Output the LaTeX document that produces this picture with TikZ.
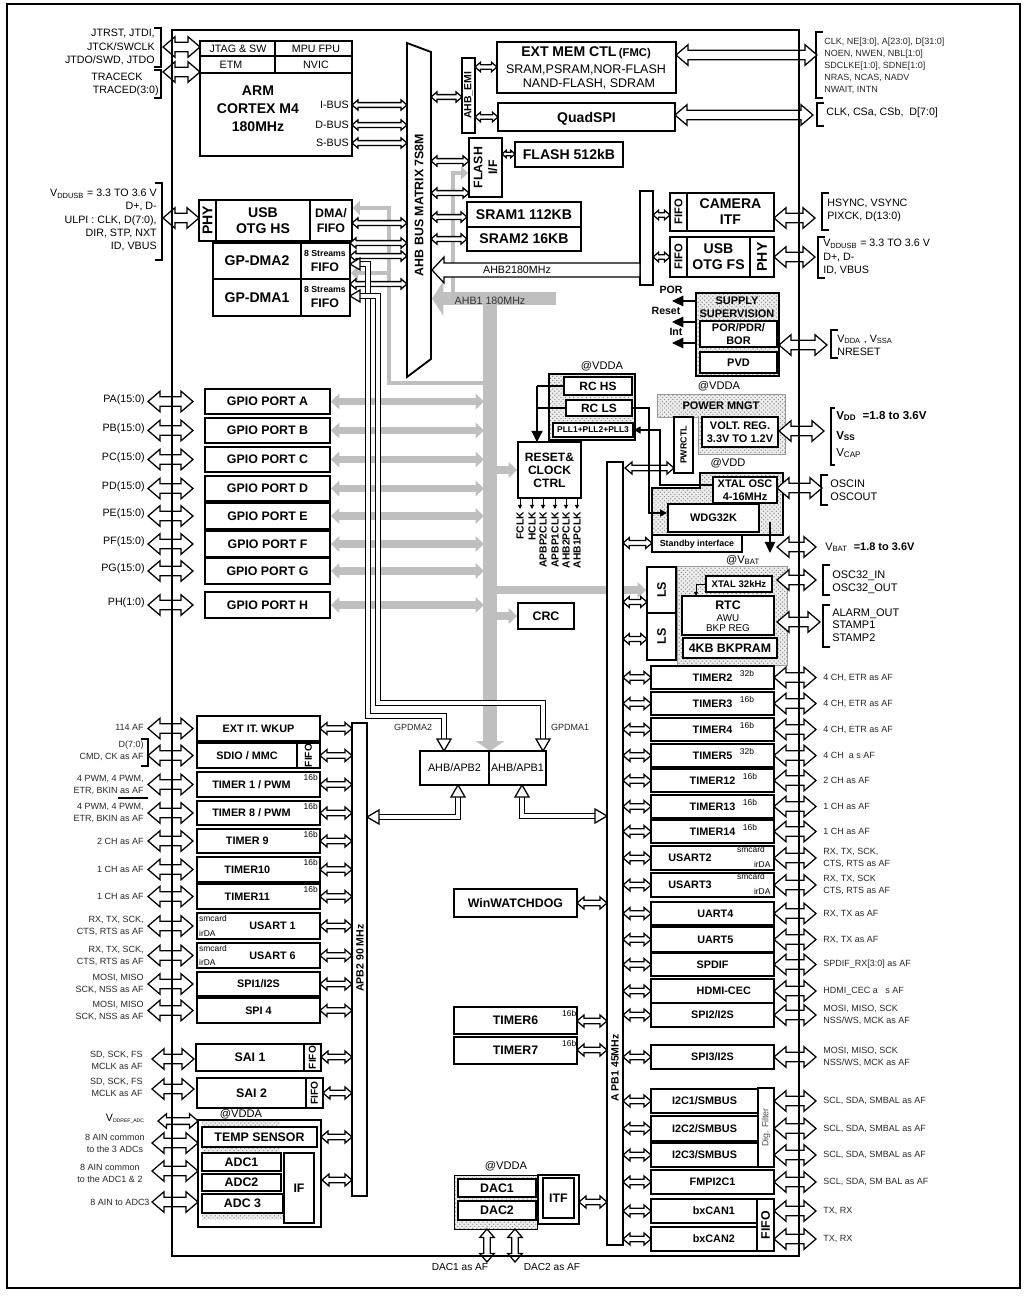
\documentclass[tikz,border=0pt]{standalone}
\usepackage{fontspec}
\setmainfont{Liberation Sans}
\usetikzlibrary{arrows.meta,positioning,fit,patterns}
\pgfdeclarelayer{bg}
\pgfsetlayers{bg,main}

\newcommand\bigf{\fontsize{10}{11.4}\selectfont\bfseries}
\newcommand\midf{\fontsize{8.8}{10.4}\selectfont\bfseries}
\newcommand\perf{\fontsize{7.7}{9}\selectfont\bfseries}
\newcommand\smbf{\fontsize{7.8}{9}\selectfont\bfseries}
\newcommand\pinf{\fontsize{7.6}{9.4}\selectfont}
\newcommand\labf{\fontsize{6.4}{8.5}\selectfont}
\newcommand\supf{\fontsize{6}{7}\selectfont}

% hollow double-headed arrows: [scale]{from}{to}{at}
\newcommand\harr[4][1]{%
  \pgfmathsetmacro\aH{6*#1}\pgfmathsetmacro\aS{2.8*#1}\pgfmathsetmacro\aL{7*#1}%
  \draw[hol] (#2,#4) -- ++(\aL,-\aH) -- ++(0,\aH-\aS) -- ({#3-\aL},{#4-\aS})
    -- ++(0,\aS-\aH) -- (#3,#4) -- ++(-\aL,\aH) -- ++(0,\aS-\aH)
    -- ({#2+\aL},{#4+\aS}) -- ++(0,\aH-\aS) -- cycle;}
\newcommand\varr[4][1]{%
  \pgfmathsetmacro\aH{6*#1}\pgfmathsetmacro\aS{2.8*#1}\pgfmathsetmacro\aL{7*#1}%
  \draw[hol] (#2,#3) -- ++(-\aH,\aL) -- ++(\aH-\aS,0) -- ({#2-\aS},{#4-\aL})
    -- ++(\aS-\aH,0) -- (#2,#4) -- ++(\aH,-\aL) -- ++(\aS-\aH,0)
    -- ({#2+\aS},{#3+\aL}) -- ++(\aH-\aS,0) -- cycle;}
% brackets round pin lists
\newcommand\brl[3]{\draw[brk] ({#1-7},#2) -- (#1,#2) -- (#1,#3) -- ({#1-7},#3);}
\newcommand\brr[3]{\draw[brk] ({#1+7},#2) -- (#1,#2) -- (#1,#3) -- ({#1+7},#3);}
% block from corner to corner, text set at its centre
\newcommand\bx[7][]{\node[box,fit={(#3,#4)(#5,#6)},#1] (#2) {};
  \node[boxt,#1,draw=none,fill=none] at (#2) {#7};}

\begin{document}
\begin{tikzpicture}[x=0.025cm,y=-0.025cm,
  box/.style={draw,line width=1.3pt,fill=white,inner sep=0pt},
  boxt/.style={inner sep=0pt,align=center,text depth=0pt},
  thinbox/.style={box,line width=0.9pt},
  hol/.style={draw,fill=white,line width=0.9pt,line join=miter},
  brk/.style={line width=1.2pt},
  dbl/.style={draw,line width=0.8pt,double=white,double distance=2.2pt},
  gry/.style={draw=black!25,line cap=butt,line join=miter},
  gtips/.style={arrows={Triangle[length=6pt,width=11pt]-Triangle[length=6pt,width=11pt]}},
  gtip/.style={arrows={-Triangle[length=6pt,width=11pt]}},
  stip/.style={preaction={fill=black!7},pattern=crosshatch dots,pattern color=black!45},
  lab/.style={font=\labf,text=black!85,inner sep=0pt,align=left},
  pinl/.style={font=\pinf,inner sep=0pt},
  supl/.style={font=\supf,inner sep=0pt},
  atl/.style={font=\fontsize{7.9}{9}\selectfont,inner sep=0pt},
  fa/.style={line width=0.8pt,arrows={-Triangle[length=5pt,width=5pt]}}]

  \useasboundingbox (0,0) rectangle (1028,1296);
  \draw[line width=1.4pt] (7,4) rectangle (1020,1288);
  \coordinate (bus) at (484,0);

  % Cortex core
  \bx{cpu}{200}{41}{352}{156}{}
  \draw[line width=1pt] (200,56) -- (352,56) (200,73) -- (352,73) (275,41) -- (275,73);
  \node[pinl] (jtag) at (238,49) {JTAG \& SW};
  \node[pinl] (mpu) at (316,49) {MPU FPU};
  \node[pinl] (etm) at (231,65) {ETM};
  \node[pinl] (nvic) at (316,65) {NVIC};
  \node[font=\fontsize{10}{12.8}\selectfont\bfseries,align=center] (arm) at (258,109) {ARM\\CORTEX M4\\180MHz};
  \node[pinl,anchor=east] (ibus) at (349,105) {I-BUS};
  \node[pinl,anchor=east] (dbus) at (349,125) {D-BUS};
  \node[pinl,anchor=east] (sbus) at (349,143) {S-BUS};
  \node[pinl,anchor=east,align=right,font=\fontsize{7.6}{9.8}\selectfont] (jtagpins) at (155,47) {JTRST, JTDI,\\JTCK/SWCLK\\JTDO/SWD, JTDO};
  \node[pinl] (trck) at (117,77) {TRACECK};
  \node[pinl,anchor=east] (trd) at (159,91) {TRACED(3:0)};
  \brl{161}{28}{67}
  \brl{161}{70}{98}

  % USB OTG HS and DMA
  \bx{phyhs}{199}{200}{216}{241}{}
  \node[rotate=90,font=\bigf] at (phyhs) {PHY};
  \bx[font=\bigf]{otghs}{216}{200}{310}{241}{USB\\OTG HS}
  \bx[font=\midf]{dmahs}{310}{200}{352}{241}{DMA/\\FIFO}
  \node[pinl,anchor=east,align=right] (usbhspins) at (157,220) {V\textsubscript{DDUSB} = 3.3 TO 3.6 V\\D+, D-\\ULPI : CLK, D(7:0),\\DIR, STP, NXT\\ID, VBUS};
  \brl{162}{183}{260}
  \bx[font=\bigf]{dma2}{213}{243}{301}{279}{GP-DMA2}
  \bx{fifo2}{301}{243}{350}{279}{}
  \bx[font=\bigf]{dma1}{213}{279}{301}{316}{GP-DMA1}
  \bx{fifo1}{301}{279}{350}{316}{}
  \node[font=\fontsize{6.2}{7}\selectfont\bfseries] at (325,253) {8 Streams};
  \node[font=\midf] at (325,267) {FIFO};
  \node[font=\fontsize{6.2}{7}\selectfont\bfseries] at (325,289) {8 Streams};
  \node[font=\midf] at (325,303) {FIFO};

  % Bus matrix
  \draw[line width=1.3pt,fill=white] (407,43) -- (431,52) -- (431,359) -- (407,377) -- cycle;
  \node[rotate=90,font=\midf] (ahb) at (419,205) {AHB BUS MATRIX 7S8M};

  % Memories
  \bx{emi}{462}{58}{475}{133}{}
  \node[rotate=90,font=\fontsize{7.4}{8}\selectfont\bfseries] at (emi) {AHB\_EMI};
  \bx{fmc}{497}{42}{676}{93}{}
  \node[font=\bigf] (fmct) at (586,53) {EXT MEM CTL\,{\fontsize{8}{9}\selectfont(FMC)}};
  \node[font=\fontsize{8.9}{10}\selectfont] at (586,70) {SRAM,PSRAM,NOR-FLASH};
  \node[font=\fontsize{8.9}{10}\selectfont] at (589,84) {NAND-FLASH, SDRAM};
  \bx[font=\bigf]{qspi}{498}{103}{675}{131}{QuadSPI}
  \bx{flif}{469}{138}{502}{197}{}
  \node[rotate=90,font=\midf,align=center] at (flif) {FLASH\\I/F};
  \bx[font=\bigf]{flash}{515}{142}{623}{167}{FLASH 512kB}
  \bx[font=\bigf]{sram1}{467}{202}{581}{227}{SRAM1 112KB}
  \bx[font=\bigf]{sram2}{467}{227}{581}{251}{SRAM2 16KB}
  \node[lab,anchor=west] (fmcpins) at (824,66) {CLK, NE[3:0], A[23:0], D[31:0]\\NOEN, NWEN, NBL[1:0]\\SDCLKE[1:0], SDNE[1:0]\\NRAS, NCAS, NADV\\NWAIT, INTN};
  \brr{816}{32}{98}
  \node[pinl,anchor=west] (qspipins) at (826,113) {CLK, CSa, CSb,\ \ D[7:0]};
  \brr{817}{103}{126}

  % AHB2 peripherals
  \bx{ahbtwobar}{640}{191}{653}{285}{}
  \bx{fifocam}{670}{193}{687}{231}{}
  \node[rotate=90,font=\fontsize{8}{9}\selectfont\bfseries] at (fifocam) {FIFO};
  \bx[font=\bigf]{cam}{687}{193}{774}{231}{CAMERA\\ITF}
  \bx{fifofs}{670}{237}{687}{277}{}
  \node[rotate=90,font=\fontsize{8}{9}\selectfont\bfseries] at (fifofs) {FIFO};
  \bx[font=\bigf]{otgfs}{687}{237}{750}{277}{USB\\OTG FS}
  \bx{phyfs}{750}{237}{774}{277}{}
  \node[rotate=90,font=\bigf] at (phyfs) {PHY};
  \node[pinl,anchor=west,align=left] (campins) at (827,210) {HSYNC, VSYNC\\PIXCK, D(13:0)};
  \brr{822}{193}{230}
  \node[pinl,anchor=west,align=left] (usbfspins) at (823,257) {V\textsubscript{DDUSB} = 3.3 TO 3.6 V\\D+, D-\\ID, VBUS};
  \brr{818}{237}{278}

  % Supply supervision
  \node[draw,line width=2pt,stip,inner sep=0pt,fit={(696,293)(779,376)}] (supv) {};
  \node[font=\smbf,align=center,inner sep=0pt] at (737,307) {SUPPLY\\SUPERVISION};
  \bx[font=\smbf]{por}{700}{321}{777}{347}{POR/PDR/\\BOR}
  \bx[font=\smbf]{pvd}{700}{352}{777}{373}{PVD}
  \node[font=\fontsize{7.5}{8}\selectfont\bfseries] at (671,290) {POR};
  \node[font=\fontsize{7.5}{8}\selectfont\bfseries] at (666,311) {Reset};
  \node[font=\fontsize{7.5}{8}\selectfont\bfseries] at (676,332) {Int};
  \node[pinl,anchor=west,align=left] (vdda) at (837,345) {V\textsubscript{DDA} , V\textsubscript{SSA}\\NRESET};
  \brr{831}{330}{358}

  % Power management
  \node[atl] at (719,386) {@VDDA};
  \draw[stip,draw=black!40,line width=0.4pt] (657,394) -- (785,394) -- (785,454) -- (698,454) -- (698,417) -- (657,417) -- cycle;
  \node[font=\smbf] (pwr) at (721,406) {POWER MNGT};
  \bx{pwrctl}{674}{417}{693}{473}{}
  \node[rotate=90,font=\fontsize{6.3}{7}\selectfont\bfseries] at (pwrctl) {PWRCTL};
  \bx[font=\smbf]{vreg}{702}{417}{778}{447}{VOLT. REG.\\3.3V TO 1.2V}
  \node[anchor=west,font=\fontsize{8.2}{9}\selectfont\bfseries,inner sep=0pt] at (836,416) {V\textsubscript{DD}\ \ =1.8 to 3.6V};
  \node[anchor=west,font=\fontsize{8.2}{9}\selectfont\bfseries,inner sep=0pt] at (836,436) {V\textsubscript{SS}};
  \node[anchor=west,font=\fontsize{8.2}{9}\selectfont,inner sep=0pt] at (836,453) {V\textsubscript{CAP}};
  \draw[brk] (835,408) -- (831,408) -- (831,465) -- (835,465);

  % Oscillators and watchdog
  \node[atl] at (728,463) {@VDD};
  \draw[stip,draw=black,line width=0.9pt] (700,473) -- (783,473) -- (783,535) -- (652,535) -- (652,488) -- (700,488) -- cycle;
  \bx[font=\smbf]{xosc}{713}{477}{777}{503}{XTAL OSC\\4-16MHz}
  \bx[font=\smbf]{wdg}{668}{504}{759}{532}{WDG32K}
  \bx[thinbox,font=\fontsize{6.3}{7}\selectfont\bfseries]{stby}{652}{535}{742}{552}{Standby interface}
  \node[font=\fontsize{7.8}{9.3}\selectfont,anchor=west,align=left,inner sep=0pt] at (830,490) {OSCIN\\OSCOUT};
  \brr{821}{475}{505}
  \node[anchor=west,font=\fontsize{7.8}{9}\selectfont,inner sep=0pt] at (825,547) {V\textsubscript{BAT}\ \ \textbf{=1.8 to 3.6V}};

  % Backup domain
  \node[atl] at (743,560) {@V\textsubscript{BAT}};
  \draw[stip,draw=black!40,line width=0.4pt] (677,566) rectangle (787,665);
  \bx{lsa}{647}{567}{676}{613}{}
  \node[rotate=90,font=\midf] at (lsa) {LS};
  \bx{lsb}{647}{613}{676}{660}{}
  \node[rotate=90,font=\midf] at (lsb) {LS};
  \bx[thinbox,font=\fontsize{6.8}{8}\selectfont\bfseries]{xlse}{706}{576}{772}{592}{XTAL 32kHz}
  \bx{rtc}{682}{596}{774}{635}{}
  \node[font=\midf] at (728,605) {RTC};
  \node[font=\fontsize{7}{8}\selectfont] at (728,618) {AWU};
  \node[font=\fontsize{7}{8}\selectfont] at (728,628) {BKP REG};
  \bx[line width=2pt,font=\midf]{bkp}{683}{638}{777}{658}{4KB BKPRAM}
  \node[font=\fontsize{7.8}{9.3}\selectfont,anchor=west,align=left,inner sep=0pt] at (832,582) {OSC32\_IN\\OSC32\_OUT};
  \brr{823}{565}{595}
  \node[font=\fontsize{7.8}{8.9}\selectfont,anchor=west,align=left,inner sep=0pt] at (832,625) {ALARM\_OUT\\STAMP1\\STAMP2};
  \brr{823}{605}{647}

  % Clocks
  \node[atl] at (602,366) {@VDDA};
  \node[draw,line width=1.8pt,stip,inner sep=0pt,fit={(549,374)(635,440)}] (rcg) {};
  \bx[font=\fontsize{8.5}{9}\selectfont\bfseries]{rchs}{564}{377}{632}{395}{RC HS}
  \bx[font=\fontsize{8.5}{9}\selectfont\bfseries]{rcls}{566}{400}{632}{416}{RC LS}
  \bx[thinbox,font=\fontsize{6}{7}\selectfont\bfseries]{pll}{553}{423}{633}{437}{PLL1+PLL2+PLL3}
  \bx[font=\fontsize{8.6}{9.2}\selectfont\bfseries]{rcc}{518}{442}{581}{498}{RESET\&\\CLOCK\\CTRL}
  \draw[line width=0.9pt] (rchs.west) -- (537,386) (rcls.west) -- (537,408);
  \draw[line width=0.9pt,arrows={-Triangle[length=8pt,width=8pt]}] (537,386) -- (537,442);
  \foreach \cx/\ct in {520/FCLK,532/HCLK,543/APBP2CLK,555/APBP1CLK,566/AHB2PCLK,577/AHB1PCLK}{
    \draw[line width=0.7pt,arrows={-Triangle[length=3pt,width=3pt]}] (\cx,498) -- (\cx,509);
    \node[rotate=90,anchor=east,font=\fontsize{7.3}{8}\selectfont\bfseries,inner sep=0pt] at (\cx,512) {\ct};
  }
  \bx[font=\midf]{crc}{518}{603}{574}{629}{CRC}

  % APB bridges and buses
  \bx[thinbox,font=\fontsize{7.7}{9}\selectfont]{brtwo}{420}{751}{489}{785}{AHB/APB2}
  \bx[thinbox,font=\fontsize{7.7}{9}\selectfont]{brone}{489}{751}{546}{785}{AHB/APB1}
  \node[lab] at (413,727) {GPDMA2};
  \node[lab] at (570,727) {GPDMA1};
  \bx{apbtwo}{352}{723}{367}{1196}{}
  \node[rotate=90,font=\fontsize{7.5}{8}\selectfont\bfseries] at (360,958) {APB2 90 MHz};
  \bx{apbone}{607}{462}{623}{1245}{}
  \node[rotate=90,font=\fontsize{7.5}{8}\selectfont\bfseries] at (615,1068) {A PB1 45MHz};

  % GPIO ports
  \foreach \nm/\ya/\yb/\pl/\lab in {gpa/389/414/A/PA(15:0),gpb/418/443/B/PB(15:0),
      gpc/447/472/C/PC(15:0),gpd/476/501/D/PD(15:0),gpe/503/529/E/PE(15:0),
      gpf/531/557/F/PF(15:0),gpg/558/584/G/PG(15:0),gph/592/618/H/PH(1:0)}{
    \pgfmathsetmacro\yc{(\ya+\yb)/2}
    \node[box,fit={(205,\ya)(330,\yb)}] (\nm) {};
    \node[boxt,font=\midf] at (\nm) {GPIO PORT \pl};
    \harr[1.7]{148}{193}{\yc}
    \node[pinl,anchor=east] at (145,\yc-2) {\lab};
    \begin{pgfonlayer}{bg}
      \draw[gry,line width=5pt,gtips] (\nm.east) -- (\nm.east -| bus);
    \end{pgfonlayer}
  }

  % APB2 peripherals
  \bx[font=\perf]{extit}{197}{716}{320}{741}{EXT IT. WKUP}
  \harr{320}{352}{728.5}
  \harr[1.7]{148}{193}{728.5}
  \node[lab,anchor=east] at (144,727) {114 AF};
  \bx[font=\perf]{sdio}{197}{743}{297}{768}{SDIO / MMC}
  \bx{sdiofifo}{297}{743}{320}{768}{}
  \node[rotate=90,font=\fontsize{7.2}{8}\selectfont\bfseries] at (sdiofifo) {FIFO};
  \harr{320}{352}{755.5}
  \harr[1.7]{148}{193}{755.5}
  \node[lab,anchor=east,align=right] at (144,751) {D(7:0)\\CMD, CK as AF};
  \brl{148}{739}{766}
  \draw[line width=1pt] (118,798) -- (148,798);
  \foreach \nm/\ya/\yb/\dx/\txt/\su/\lab in {
      tim1/772/797/-5pt/{TIMER 1 / PWM}/16b/{4 PWM, 4 PWM,\\ETR, BKIN as AF},
      tim8/801/825/-5pt/{TIMER 8 / PWM}/16b/{4 PWM, 4 PWM,\\ETR, BKIN as AF},
      tim9/829/853/-8pt/{TIMER 9}/16b/{2 CH as AF},
      tim10/857/882/-8pt/{TIMER10}/16b/{1 CH as AF},
      tim11/884/909/-8pt/{TIMER11}/16b/{1 CH as AF},
      usart1/913/939/10pt/{USART 1}/{}/{RX, TX, SCK,\\CTS, RTS as AF},
      usart6/943/968/10pt/{USART 6}/{}/{RX, TX, SCK,\\CTS, RTS as AF},
      spi1/972/996/0pt/{SPI1/I2S}/{}/{MOSI, MISO\\SCK, NSS as AF},
      spi4/998/1023/0pt/{SPI 4}/{}/{MOSI, MISO\\SCK, NSS as AF}}{
    \pgfmathsetmacro\yc{(\ya+\yb)/2}
    \node[box,fit={(197,\ya)(320,\yb)}] (\nm) {};
    \node[font=\perf] at ([xshift=\dx]\nm.center) {\txt};
    \node[supl,anchor=north east] at ([xshift=-2pt,yshift=-2pt]\nm.north east) {\su};
    \harr{320}{352}{\yc}
    \harr[1.7]{148}{193}{\yc}
    \node[lab,anchor=east,align=right] at (144,\yc) {\lab};
  }
  \foreach \u in {usart1,usart6}{
    \node[supl,anchor=north west] at ([xshift=2pt,yshift=-2pt]\u.north west) {smcard};
    \node[supl,anchor=south west] at ([xshift=2pt,yshift=2pt]\u.south west) {irDA};
  }
  \bx[font=\midf]{sai1}{196}{1044}{304}{1071}{SAI 1}
  \bx{saififo1}{304}{1044}{321}{1071}{}
  \node[rotate=90,font=\fontsize{7.2}{8}\selectfont\bfseries] at (saififo1) {FIFO};
  \bx[font=\midf]{sai2}{197}{1078}{306}{1108}{SAI 2}
  \bx{saififo2}{306}{1078}{323}{1108}{}
  \node[rotate=90,font=\fontsize{7.2}{8}\selectfont\bfseries] at (saififo2) {FIFO};
  \harr{321}{352}{1057}
  \harr{323}{352}{1093}
  \harr[1.7]{152}{194}{1059}
  \harr[1.7]{152}{194}{1089}
  \node[lab,anchor=east,align=right] at (143,1060) {SD, SCK, FS\\MCLK as AF};
  \node[lab,anchor=east,align=right] at (143,1087) {SD, SCK, FS\\MCLK as AF};

  % ADC
  \draw[line width=1pt] (198,1120) rectangle (321,1227);
  \fill[stip] (202,1121) rectangle (280,1127);
  \fill[stip] (202,1147) rectangle (280,1153);
  \fill[stip] (202,1213) rectangle (283,1219);
  \node[atl] at (241,1114) {@VDDA};
  \bx[font=\midf]{temp}{202}{1127}{317}{1147}{TEMP SENSOR}
  \bx[font=\midf]{adc1}{202}{1153}{281}{1171}{ADC1}
  \bx[font=\midf]{adc2}{202}{1174}{281}{1191}{ADC2}
  \bx[font=\midf]{adc3}{202}{1194}{283}{1213}{ADC 3}
  \bx[font=\midf]{adcif}{284}{1153}{314}{1223}{IF}
  \harr{321}{352}{1137}
  \harr{322}{352}{1180}
  \harr[1.2]{158}{198}{1121}
  \harr[1.7]{152}{198}{1143}
  \harr[1.7]{152}{198}{1171}
  \harr[1.7]{152}{198}{1202}
  \node[pinl,anchor=east] at (145,1119) {V\textsubscript{\fontsize{3.6}{4}\selectfont DDREF\_ADC}};
  \node[lab,align=center] at (115,1143) {8 AIN common\\to the 3 ADCs};
  \node[lab,align=center] at (110,1173) {8 AIN common\\to the ADC1 \& 2};
  \node[lab] at (120,1202) {8 AIN to ADC3};

  % Middle blocks on APB1
  \bx[font=\midf]{wwdg}{454}{889}{577}{917}{WinWATCHDOG}
  \bx[font=\midf]{tim6}{454}{1007}{577}{1034}{TIMER6}
  \bx[font=\midf]{tim7}{454}{1037}{577}{1064}{TIMER7}
  \node[supl,anchor=north east] at ([xshift=-1pt,yshift=-3pt]tim6.north east) {16b};
  \node[supl,anchor=north east] at ([xshift=-1pt,yshift=-3pt]tim7.north east) {16b};
  \harr{577}{607}{903}
  \harr{577}{607}{1021}
  \harr{577}{607}{1050}
  \node[atl] at (506,1166) {@VDDA};
  \draw[stip] (454,1175) rectangle (537,1229);
  \bx[font=\midf]{dac1}{458}{1179}{536}{1197}{DAC1}
  \bx[font=\midf]{dac2}{458}{1201}{536}{1220}{DAC2}
  \draw[line width=1pt] (538,1175) rectangle (579,1224);
  \bx[font=\midf]{itf}{543}{1178}{574}{1218}{ITF}
  \harr{579}{607}{1202}
  \varr[1.2]{487}{1229}{1262}
  \varr[1.2]{515}{1229}{1262}
  \node[font=\fontsize{7.2}{8}\selectfont] at (460,1267) {DAC1 as AF};
  \node[font=\fontsize{7.2}{8}\selectfont] at (552,1267) {DAC2 as AF};

  % APB1 peripherals
  \foreach \nm/\ya/\yb/\xb/\dx/\txt/\su/\lab in {
      tim2/666/689/774/0pt/TIMER2/32b/{4 CH, ETR as AF},
      tim3/692/715/774/0pt/TIMER3/16b/{4 CH, ETR as AF},
      tim4/718/741/774/0pt/TIMER4/16b/{4 CH, ETR as AF},
      tim5/744/767/774/0pt/TIMER5/32b/{4 CH\ \ a s AF},
      tim12/769/792/774/0pt/TIMER12/16b/{2 CH as AF},
      tim13/795/818/774/0pt/TIMER13/16b/{1 CH as AF},
      tim14/820/843/774/0pt/TIMER14/16b/{1 CH as AF},
      usart2/846/870/774/-16pt/USART2/{}/{RX, TX, SCK,\\CTS, RTS as AF},
      usart3/873/897/774/-16pt/USART3/{}/{RX, TX, SCK\\CTS, RTS as AF},
      uart4/902/925/774/2pt/UART4/{}/{RX, TX as AF},
      uart5/927/952/774/2pt/UART5/{}/{RX, TX as AF},
      spdif/953/976/774/0pt/SPDIF/{}/{SPDIF\_RX[3:0] as AF},
      hdmi/979/1003/774/8pt/HDMI-CEC/{}/{HDMI\_CEC a\ \ \ s AF},
      spi2/1003/1027/774/0pt/{SPI2/I2S}/{}/{MOSI, MISO, SCK\\NSS/WS, MCK as AF},
      spi3/1045/1069/774/0pt/{SPI3/I2S}/{}/{MOSI, MISO, SCK\\NSS/WS, MCK as AF},
      itwoc1/1089/1113/758/0pt/{I2C1/SMBUS}/{}/{SCL, SDA, SMBAL as AF},
      itwoc2/1116/1141/758/0pt/{I2C2/SMBUS}/{}/{SCL, SDA, SMBAL as AF},
      itwoc3/1143/1167/758/0pt/{I2C3/SMBUS}/{}/{SCL, SDA, SMBAL as AF},
      fmpi/1170/1194/774/0pt/FMPI2C1/{}/{SCL, SDA, SM BAL as AF},
      canone/1199/1223/757/7pt/bxCAN1/{}/{TX, RX},
      cantwo/1227/1251/757/7pt/bxCAN2/{}/{TX, RX}}{
    \pgfmathsetmacro\yc{(\ya+\yb)/2}
    \node[box,fit={(651,\ya)(\xb,\yb)}] (\nm) {};
    \node[font=\perf,inner sep=0pt] (\nm t) at ([xshift=\dx]\nm.center) {\txt};
    \node[supl,anchor=west] at ([xshift=5pt]\nm t.north east) {\su};
    \harr{623}{651}{\yc}
    \harr[1.7]{774}{816}{\yc}
    \node[lab,anchor=west] at (823,\yc) {\lab};
  }
  \foreach \u in {usart2,usart3}{
    \node[supl,anchor=north east] at ([xshift=-7pt,yshift=-1pt]\u.north east) {smcard};
    \node[supl,anchor=south east] at ([xshift=-3pt,yshift=2pt]\u.south east) {irDA};
  }
  \bx{digf}{758}{1088}{774}{1167}{}
  \node[rotate=90,font=\fontsize{6.3}{7}\selectfont,text=black!70] at (digf) {Dig. Filter};
  \bx{canfifo}{757}{1199}{774}{1251}{}
  \node[rotate=90,font=\midf] at (canfifo) {FIFO};

  % Hollow arrows round the core and matrix
  \harr[1.7]{163}{200}{47}
  \harr[1.7]{163}{200}{72}
  \harr[1.7]{163}{199}{218}
  \harr[0.85]{352}{407}{105}
  \harr[0.85]{352}{407}{125}
  \harr[0.85]{352}{407}{143}
  \harr[0.85]{352}{407}{223}
  \harr[0.85]{350}{407}{243}
  \harr[0.85]{350}{407}{256}
  \harr[0.85]{350}{407}{284}
  \harr[0.85]{431}{462}{97}
  \harr[0.8]{475}{497}{67}
  \harr[0.8]{475}{498}{117}
  \harr[0.85]{431}{469}{161}
  \harr[0.85]{431}{469}{193}
  \harr[0.6]{502}{515}{154}
  \harr[0.85]{431}{467}{217}
  \harr[0.85]{431}{467}{239}
  \harr[1.7]{676}{817}{55}
  \harr[1.7]{675}{813}{115}
  \harr[0.8]{653}{670}{215}
  \harr[0.8]{653}{670}{257}
  \harr[1.7]{774}{815}{218}
  \harr[1.7]{774}{815}{257}
  \draw[hol] (432,270) -- ++(12,-13) -- ++(0,6) -- (640,263) -- (640,277) -- (444,277) -- ++(0,6) -- cycle;
  \node[pinl] (ahbtwo) at (517,270) {AHB2180MHz};

  % Power and clock arrows
  \harr[1.7]{779}{827}{345}
  \harr[1.7]{779}{824}{431}
  \harr[1.7]{777}{822}{488}
  \harr[1.7]{777}{816}{547}
  \harr[1.7]{777}{816}{580}
  \harr[1.7]{777}{820}{622}
  \harr{625}{674}{468}
  \harr[0.9]{623}{652}{543}
  \harr[0.9]{623}{647}{602}
  \harr[0.9]{623}{647}{639}
  \draw[line width=0.8pt,arrows={-Triangle[length=8pt,width=7.5pt]}] (696,301) -- (672,301);
  \draw[line width=0.8pt,arrows={-Triangle[length=8pt,width=7.5pt]}] (696,322) -- (672,322);
  \draw[line width=0.8pt,arrows={-Triangle[length=8pt,width=7.5pt]}] (696,343) -- (672,343);
  \draw[fa] (xosc.west |- 0,485) -- (660,485) -- (660,430) -- (pll.east |- 0,430);
  \draw[fa] (rcls.east) -- (649,408) -- (649,513) -- (wdg.west |- 0,513);
  \draw[line width=0.8pt,arrows={-Triangle[length=8pt,width=7.5pt]}] (770,522) -- (770,553);
  \draw[line width=0.6pt,arrows={-Triangle[length=3pt,width=3pt]}] (xlse.west) -- (696,584) -- (696,596);

  % DMA paths to the bridges
  \draw[dbl] (356,264) -- (368,264) -- (368,716) -- (444,716) -- (444,740);
  \draw[dbl] (356,296) -- (378,296) -- (378,703) -- (543,703) -- (543,740);
  \draw[hol] (444,751) -- ++(-7,-12) -- ++(14,0) -- cycle;
  \draw[hol] (543,751) -- ++(-7,-12) -- ++(14,0) -- cycle;
  \draw[hol] (350,264) -- ++(10,-6) -- ++(0,12) -- cycle;
  \draw[hol] (350,296) -- ++(10,-6) -- ++(0,12) -- cycle;
  \draw[dbl] (458,796) -- (458,817) -- (379,817);
  \draw[hol] (458,785) -- ++(-7,12) -- ++(14,0) -- cycle;
  \draw[hol] (367,817) -- ++(12,-7) -- ++(0,14) -- cycle;
  \draw[dbl] (522,796) -- (522,816) -- (596,816);
  \draw[hol] (522,785) -- ++(-7,12) -- ++(14,0) -- cycle;
  \draw[hol] (607,816) -- ++(-12,-7) -- ++(0,14) -- cycle;

  % Grey AHB1 bus
  \begin{pgfonlayer}{bg}
    \draw[gry,line width=10pt,arrows={-Triangle[length=7pt,width=20pt]}] (490,292) -- (490,751);
    \draw[gry,line width=9pt,arrows={-Triangle[length=8pt,width=24pt]}] (556,298.5) -- (432,298.5);
    \draw[gry,line width=3.5pt,arrows={-Triangle[length=5pt,width=9pt]}] (453,303) -- (453,173) -- (flif.west |- 0,173);
    \draw[gry,line width=3.5pt,arrows={-Triangle[length=5pt,width=10pt]}] (485,383) -| (389,208) -- (dmahs.east |- 0,208);
    \draw[gry,line width=3.5pt,arrows={-Triangle[length=5pt,width=10pt]}] (389,273) -- (fifo2.east |- 0,273);
    \draw[gry,line width=5pt,gtip] (bus |- rcc.west) -- (rcc.west);
    \draw[gry,line width=5pt,gtip] (bus |- crc.west) -- (crc.west);
    \draw[gry,line width=5pt,gtip] (bus |- lsa.west) -- (lsa.west);
  \end{pgfonlayer}
  \node[pinl,text=black!80] (ahbone) at (490,301) {AHB1 180MHz};

  % Chip outline
  \draw[line width=1.4pt] (172,30) rectangle (799,1256);
\end{tikzpicture}
\end{document}
